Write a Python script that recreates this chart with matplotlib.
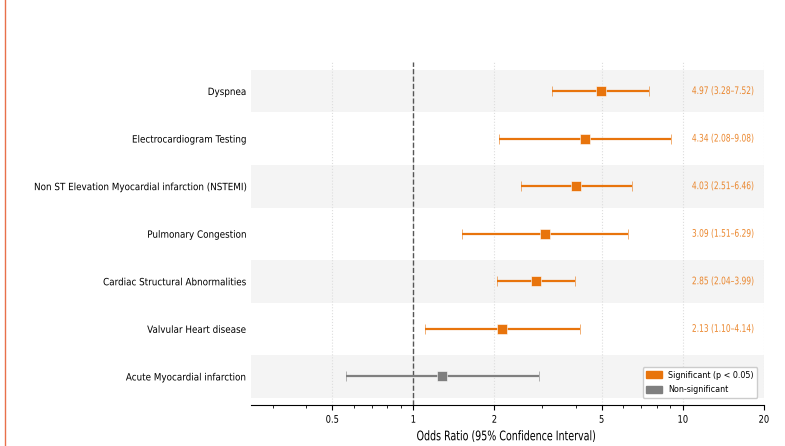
import matplotlib.pyplot as plt
from matplotlib import patheffects
from matplotlib.transforms import Affine2D
from matplotlib.lines import Line2D
from matplotlib.patches import Patch

# Data (top to bottom)
labels = ["Dyspnea", "Electrocardiogram Testing",
          "Non ST Elevation Myocardial infarction (NSTEMI)",
          "Pulmonary Congestion", "Cardiac Structural Abnormalities",
          "Valvular Heart disease", "Acute Myocardial infarction"]
odds = [4.97, 4.34, 4.03, 3.09, 2.85, 2.13, 1.28]
lower = [3.28, 2.08, 2.51, 1.51, 2.04, 1.10, 0.56]
upper = [7.52, 9.08, 6.46, 6.29, 3.99, 4.14, 2.92]
significant = [True, True, True, True, True, True, False]
xticks = [0.5, 1, 2, 5, 10, 20]

ORANGE = "#e8740c"
GREY = "#7f7f7f"


# squeeze text horizontally (the reference font is a condensed one)
class Condense(patheffects.AbstractPathEffect):
    def __init__(self, sx, anchor="center"):
        super().__init__()
        self.sx = sx
        self.anchor = anchor

    def draw_path(self, renderer, gc, tpath, affine, rgbFace=None):
        ext = tpath.get_extents(affine)
        x0 = {"left": ext.x0, "right": ext.x1, "center": 0.5 * (ext.x0 + ext.x1)}[self.anchor]
        t = affine + Affine2D().translate(-x0, 0).scale(self.sx, 1).translate(x0, 0)
        renderer.draw_path(gc, tpath, t, rgbFace)


plt.rcParams['font.family'] = ['DejaVu Sans']

fig, ax = plt.subplots(figsize=(7.85, 4.46), dpi=100)
fig.subplots_adjust(left=0.32, right=0.973, top=0.86, bottom=0.092)

n = len(labels)
ypos = [n - 1 - i for i in range(n)]

# alternating row shading
for i, y in enumerate(ypos):
    if i % 2 == 0:
        ax.axhspan(y - 0.45, y + 0.45, color="#f4f4f4", zorder=0, lw=0)

for y, o, lo, hi, sig in zip(ypos, odds, lower, upper, significant):
    c = ORANGE if sig else GREY
    ax.errorbar(o, y, xerr=[[o - lo], [hi - o]], fmt='s', color=c, ecolor=c,
                elinewidth=1.6, capsize=3.3, capthick=1.3, markersize=6.5,
                markeredgecolor='white', markeredgewidth=0.4, zorder=3)
    if sig:
        ax.text(10.8, y, f"{o:.2f} ({lo:.2f}–{hi:.2f})", color=ORANGE, alpha=0.85,
                fontsize=7.5, va='center', ha='left',
                path_effects=[Condense(0.72, "left")])

ax.axvline(1, color="#555555", linestyle="--", linewidth=1, zorder=2)

ax.set_xscale('log')
ax.set_xlim(0.25, 20)
ax.set_ylim(-0.6, n - 1 + 0.6)
ax.set_xticks(xticks)
ax.set_xticklabels([f"{t:g}" for t in xticks], fontsize=7.5)
for t in ax.get_xticklabels():
    t.set_path_effects([Condense(0.8, "center")])
ax.set_yticks(ypos)
ax.set_yticklabels(labels, fontsize=7.2)
for t in ax.get_yticklabels():
    t.set_path_effects([Condense(0.88, "right")])
ax.tick_params(axis='y', length=0)
ax.grid(True, axis='x', which='major', linestyle=':', color='#dddddd', linewidth=0.8)
ax.set_axisbelow(True)
for s in ['top', 'right', 'left']:
    ax.spines[s].set_visible(False)
ax.set_xlabel("Odds Ratio (95% Confidence Interval)", fontsize=9.5,
              path_effects=[Condense(0.72, "center")])

handles = [Patch(color=ORANGE, label="Significant (p < 0.05)"),
           Patch(color=GREY, label="Non-significant")]
ax.legend(handles=handles, loc='lower right', fontsize=5.8, framealpha=1,
          bbox_to_anchor=(0.995, 0.01), handlelength=2.0, handleheight=1.0,
          labelspacing=0.7)

# border line at left edge of the page
fig.add_artist(Line2D([0.007, 0.007], [0, 1], color="#e8704a", lw=1))

plt.savefig("out.png")
